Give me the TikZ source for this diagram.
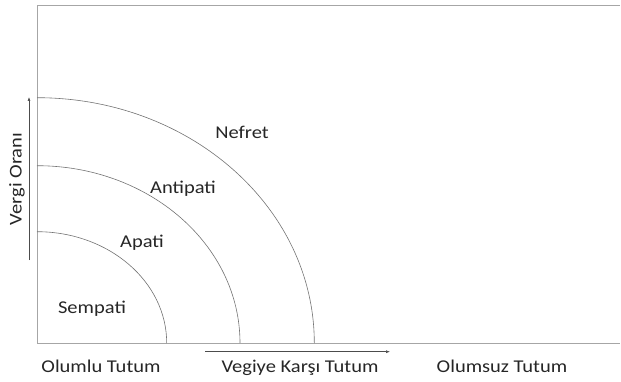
\documentclass[tikz,border=0pt]{standalone}
\usepackage{fontspec}
\setmainfont{Carlito}[FakeStretch=1.14]
\usetikzlibrary{arrows.meta,positioning}

\begin{document}
\begin{tikzpicture}[
  x=1pt,y=1pt,>={Latex[length=4pt,width=3pt]},
  frame/.style={draw=black!35,line width=0.8pt},
  zone/.style={draw=black!55,line width=0.6pt},
  axisarrow/.style={draw=black!70,line width=0.6pt,->},
  lbl/.style={font=\fontsize{18}{20}\selectfont,text=black!85,inner sep=1pt,anchor=base}]
\useasboundingbox (0,0) rectangle (621,381);
% frame (open on the right)
\coordinate (origin) at (37,38);
\draw[frame] (620,376) -- (37,376) -- (origin) -- (620,38);
% zones
\draw[zone] (origin) ++(129.7,0) arc[start angle=0,end angle=90,x radius=129.7,y radius=111.3];
\draw[zone] (origin) ++(203,0) arc[start angle=0,end angle=90,x radius=203,y radius=177.3];
\draw[zone] (origin) ++(277.3,0) arc[start angle=0,end angle=90,x radius=277.3,y radius=245.3];
\node[lbl] (sempati) at (92,68) {Sempati};
\node[lbl] (apati) at (142,134) {Apati};
\node[lbl] (antipati) at (183,187.5) {Antipati};
\node[lbl] (nefret) at (242,243) {Nefret};
% axes
\coordinate (vlo) at (29,121);
\coordinate (vhi) at (29,284);
\draw[axisarrow] (vlo) -- (vhi);
\node[lbl,rotate=90,anchor=center] (vergi) at (17,202) {Vergi Oranı};
\coordinate (hlo) at (205,29.3);
\coordinate (hhi) at (390,29.3);
\draw[axisarrow] (hlo) -- (hhi);
\node[lbl] (olumlu) at (101,9) {Olumlu Tutum};
\node[lbl] (karsi) at (300,9) {Vegiye Karşı Tutum};
\node[lbl] (olumsuz) at (502,9) {Olumsuz Tutum};
\end{tikzpicture}
\end{document}
